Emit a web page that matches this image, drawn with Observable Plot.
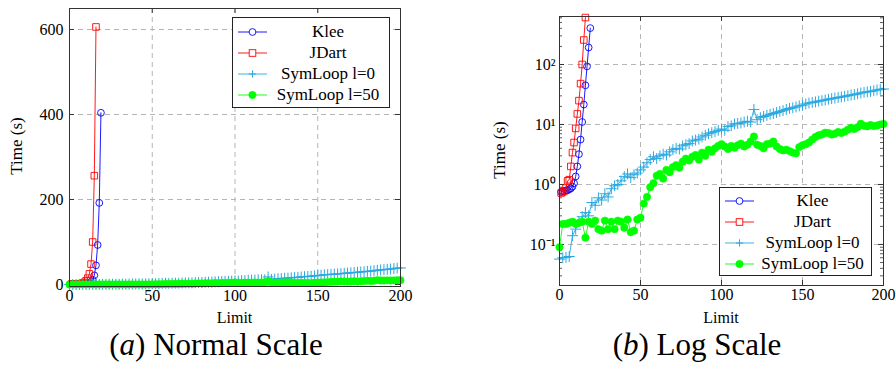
<!DOCTYPE html>
<html>
<head>
<meta charset="utf-8">
<script src="https://cdn.jsdelivr.net/npm/d3@7"></script>
<script src="https://cdn.jsdelivr.net/npm/@observablehq/plot@0.6"></script>
<style>
  body { margin: 0; background: white; }
  #wrap { position: relative; width: 896px; height: 370px; background: white; font-family: "Liberation Serif", serif; color: #000; overflow: hidden; }
  .panel { position: absolute; top: 0; }
  .lbl { position: absolute; transform: translate(-50%, -50%); white-space: nowrap; }
  .ylbl { position: absolute; transform: translate(-50%, -50%) rotate(-90deg); white-space: nowrap; }
  .legend { position: absolute; box-sizing: border-box; border: 1px solid #222; background: white; }
  .row { display: flex; align-items: center; height: 21px; }
  .row svg { flex: none; }
  .row span { flex: 1; text-align: center; font-size: 17px; line-height: 21px; }
</style>
</head>
<body>
<div id="wrap"></div>
<script>
// ---------------- data ----------------
const kleeLimit = [1, 2, 3, 4, 5, 6, 7, 8, 9, 10, 11, 12, 13, 14, 15, 16, 17, 18, 19];
const kleeTime = [0.75, 0.77, 0.78, 0.8, 0.8, 0.83, 0.86, 0.92, 1.05, 1.36, 2.0, 3.2, 5.6, 11, 21.5, 45, 93, 192, 404];

const jdartLimit = [1, 2, 3, 4, 5, 6, 7, 8, 9, 10, 11, 12, 13, 14, 15, 16];
const jdartTime = [0.72, 0.75, 0.78, 0.87, 1.15, 1.2, 2.0, 3.4, 5.0, 8.6, 15, 25, 48, 100, 256, 606];

const symLimit = [
  0, 2, 4, 6, 8, 10, 12, 14, 16, 18,
  20, 22, 24, 26, 28, 30, 32, 34, 36, 38,
  40, 42, 44, 46, 48, 50, 52, 54, 56, 58,
  60, 62, 64, 66, 68, 70, 72, 74, 76, 78,
  80, 82, 84, 86, 88, 90, 92, 94, 96, 98,
  100, 102, 104, 106, 108, 110, 112, 114, 116, 118,
  120, 122, 124, 126, 128, 130, 132, 134, 136, 138,
  140, 142, 144, 146, 148, 150, 152, 154, 156, 158,
  160, 162, 164, 166, 168, 170, 172, 174, 176, 178,
  180, 182, 184, 186, 188, 190, 192, 194, 196, 198,
  200
];
const symLoop0Time = [
  0.057, 0.06, 0.061, 0.063, 0.14, 0.18, 0.24, 0.29, 0.34, 0.3,
  0.5, 0.45, 0.6, 0.55, 0.7, 0.62, 0.85, 0.95, 1.0, 1.15,
  1.35, 1.5, 1.3, 1.45, 1.55, 1.75, 1.95, 2.3, 2.6, 2.9,
  2.7, 3.0, 3.2, 3.1, 3.5, 3.8, 4.0, 3.9, 4.4, 4.6,
  4.8, 5.3, 5.5, 5.7, 6.2, 6.6, 7.0, 7.3, 7.6, 8.0,
  8.4, 8.0, 9.2, 9.5, 10.2, 10.4, 10.6, 11.0, 11.3, 11.0,
  17.8, 12.0, 13.0, 13.6, 14.2, 14.8, 15.2, 15.8, 16.5, 17.0,
  17.8, 18.5, 19.0, 19.6, 20.4, 21.0, 22.0, 22.8, 23.3, 23.8,
  24.5, 25.0, 25.6, 26.3, 27.0, 27.5, 28.2, 28.8, 29.5, 30.2,
  31.0, 31.5, 32.5, 33.5, 34.4, 35.0, 35.6, 36.5, 37.5, 38.5,
  39.0
];
const symLoop50Time = [
  0.09, 0.22, 0.22, 0.23, 0.24, 0.22, 0.23, 0.24, 0.13, 0.24,
  0.22, 0.25, 0.18, 0.17, 0.25, 0.18, 0.24, 0.18, 0.25, 0.24,
  0.19, 0.26, 0.16, 0.17, 0.26, 0.28, 0.48, 0.62, 0.9, 1.05,
  1.4, 1.5, 1.25, 1.75, 1.6, 1.95, 2.1, 1.9, 2.4, 2.7,
  2.5, 2.9, 3.1, 2.6, 3.4, 3.0, 3.8, 3.5, 4.0, 4.4,
  4.7, 4.3, 3.9, 4.4, 4.1, 4.5, 4.8, 4.3, 4.6, 5.2,
  6.3, 4.6, 4.4, 4.0, 4.7, 4.8, 5.2, 4.3, 3.9, 3.7,
  3.8, 3.6, 3.4, 3.3, 4.2, 4.5, 4.7, 5.0, 5.6, 6.2,
  6.6, 6.8, 7.3, 7.2, 6.8, 7.0, 7.5, 7.2, 7.6, 8.2,
  8.8, 8.4, 9.0, 10.3, 9.5, 9.3, 9.8, 9.4, 9.6, 10.0,
  10.2
];

const seriesNames = ["Klee", "JDart", "SymLoop l=0", "SymLoop l=50"];
const seriesColors = ["#0000ff", "#ff0000", "#29a8e0", "#00ff00"];

const xTicks = [0, 50, 100, 150, 200];
const linTicks = [0, 200, 400, 600];
const logTicks = [0.1, 1, 10, 100];
const logTickLabels = ["10\u207B\u00B9", "10\u2070", "10\u00B9", "10\u00B2"];
const logMinor = [0.03, 0.04, 0.05, 0.06, 0.07, 0.08, 0.09,
  0.2, 0.3, 0.4, 0.5, 0.6, 0.7, 0.8, 0.9,
  2, 3, 4, 5, 6, 7, 8, 9,
  20, 30, 40, 50, 60, 70, 80, 90,
  200, 300, 400, 500, 600];

const xLabel = "Limit";
const yLabel = "Time (s)";
const captions = ["Normal Scale", "Log Scale"];

// ---------------- build ----------------
const klee = kleeLimit.map((x, i) => ({x, y: kleeTime[i]}));
const jdart = jdartLimit.map((x, i) => ({x, y: jdartTime[i]}));
const sym0 = symLimit.map((x, i) => ({x, y: symLoop0Time[i]}));
const sym50 = symLimit.map((x, i) => ({x, y: symLoop50Time[i]}));

const frameColor = "#333";
const gridStyle = {stroke: "#b5b5b5", strokeDasharray: "5,4", strokeWidth: 1};

function seriesMarks() {
  return [
    Plot.line(klee, {x: "x", y: "y", stroke: seriesColors[0], strokeWidth: 0.9}),
    Plot.dot(klee, {x: "x", y: "y", r: 3.4, stroke: seriesColors[0], fill: "none", strokeWidth: 0.9}),
    Plot.line(jdart, {x: "x", y: "y", stroke: seriesColors[1], strokeWidth: 0.9}),
    Plot.dot(jdart, {x: "x", y: "y", symbol: "square", r: 3.7, stroke: seriesColors[1], fill: "none", strokeWidth: 0.9}),
    Plot.line(sym0, {x: "x", y: "y", stroke: seriesColors[2], strokeWidth: 0.9}),
    Plot.dot(sym0, {x: "x", y: "y", symbol: "plus", r: 3.6, stroke: seriesColors[2], strokeWidth: 1}),
    Plot.line(sym50, {x: "x", y: "y", stroke: seriesColors[3], strokeWidth: 0.9}),
    Plot.dot(sym50, {x: "x", y: "y", r: 3.7, fill: seriesColors[3], stroke: seriesColors[3], strokeWidth: 0.5})
  ];
}

function innerTicks(vals, axis, len, fw, fh, extra = {}) {
  if (axis === "y") {
    return [
      Plot.tickY(vals, {y: d => d, stroke: frameColor, insetRight: fw - len, ...extra}),
      Plot.tickY(vals, {y: d => d, stroke: frameColor, insetLeft: fw - len, ...extra})
    ];
  }
  return [
    Plot.tickX(vals, {x: d => d, stroke: frameColor, insetTop: fh - len, ...extra}),
    Plot.tickX(vals, {x: d => d, stroke: frameColor, insetBottom: fh - len, ...extra})
  ];
}

const styleBase = {fontFamily: "'Liberation Serif', serif", fontSize: "16px", background: "transparent", overflow: "visible", color: "#000"};

// Panel A
const A = {w: 448, h: 330, ml: 69, mr: 48, mt: 8, mb: 44};
const aFW = A.w - A.ml - A.mr, aFH = A.h - A.mt - A.mb;
const plotA = Plot.plot({
  width: A.w, height: A.h,
  marginLeft: A.ml, marginRight: A.mr, marginTop: A.mt, marginBottom: A.mb,
  style: styleBase,
  x: {domain: [0, 200], ticks: xTicks, tickSize: 0, tickPadding: 3, label: null},
  y: {domain: [-4.7, 649.4], ticks: linTicks, tickSize: 0, tickPadding: 6, label: null},
  marks: [
    Plot.ruleX(xTicks.slice(1, -1), gridStyle),
    Plot.ruleY(linTicks.slice(1), gridStyle),
    ...innerTicks(linTicks, "y", 5, aFW, aFH),
    ...innerTicks(xTicks, "x", 5, aFW, aFH),
    ...seriesMarks(),
    Plot.frame({stroke: frameColor, strokeWidth: 1})
  ]
});

// Panel B
const B = {w: 448, h: 330, ml: 111, mr: 13, mt: 16, mb: 45};
const bFW = B.w - B.ml - B.mr, bFH = B.h - B.mt - B.mb;
const plotB = Plot.plot({
  width: B.w, height: B.h,
  marginLeft: B.ml, marginRight: B.mr, marginTop: B.mt, marginBottom: B.mb,
  style: styleBase,
  x: {domain: [0, 200], ticks: xTicks, tickSize: 0, tickPadding: 3, label: null},
  y: {type: "log", domain: [0.0207, 631], ticks: logTicks, tickFormat: d => logTickLabels[logTicks.indexOf(d)] ?? "", tickSize: 0, tickPadding: 4, label: null},
  marks: [
    Plot.ruleX(xTicks.slice(1, -1), gridStyle),
    Plot.ruleY(logTicks, gridStyle),
    ...innerTicks(logTicks, "y", 5, bFW, bFH),
    ...innerTicks(logMinor, "y", 3, bFW, bFH, {strokeWidth: 0.8}),
    ...innerTicks(xTicks, "x", 5, bFW, bFH),
    ...seriesMarks(),
    Plot.frame({stroke: frameColor, strokeWidth: 1})
  ]
});

const wrap = document.getElementById("wrap");
function addDiv(cls, html, left, top, extraStyle = "") {
  const d = document.createElement("div");
  d.className = cls;
  d.innerHTML = html;
  d.style.cssText += `left:${left}px;top:${top}px;${extraStyle}`;
  wrap.appendChild(d);
  return d;
}
const pa = addDiv("panel", "", 0, 0); pa.appendChild(plotA);
const pb = addDiv("panel", "", 448, 0); pb.appendChild(plotB);

// axis labels
addDiv("lbl", xLabel, A.ml + aFW / 2, 318, "font-size:16px;");
addDiv("lbl", xLabel, 448 + B.ml + bFW / 2, 318, "font-size:16px;");
addDiv("ylbl", yLabel, 17, 146, "font-size:17px;");
addDiv("ylbl", yLabel, 500, 150, "font-size:17px;");

// captions
addDiv("lbl", `(<i>a</i>) ${captions[0]}`, 216, 345, "font-size:31px;");
addDiv("lbl", `(<i>b</i>) ${captions[1]}`, 697, 345, "font-size:31px;");

// legends
function markerSVG(i) {
  const c = seriesColors[i];
  let m = "";
  if (i === 0) m = `<circle cx="14.5" cy="7" r="3.4" fill="white" stroke="${c}" stroke-width="0.9"/>`;
  if (i === 1) m = `<rect x="11.2" y="3.7" width="6.6" height="6.6" fill="white" stroke="${c}" stroke-width="0.9"/>`;
  if (i === 2) m = `<path d="M14.5,3.4V10.6M10.9,7H18.1" stroke="${c}" stroke-width="1"/>`;
  if (i === 3) m = `<circle cx="14.5" cy="7" r="3.7" fill="${c}" stroke="${c}" stroke-width="0.5"/>`;
  return `<svg width="29" height="14"><line x1="0" y1="7" x2="29" y2="7" stroke="${c}" stroke-width="0.9"/>${m}</svg>`;
}
function legend(left, top, w, h, padTop, padLeft) {
  const rows = seriesNames.map((n, i) => `<div class="row"><span style="flex:none;width:${padLeft}px"></span>${markerSVG(i)}<span>${n}</span></div>`).join("");
  addDiv("legend", rows, left, top, `width:${w}px;height:${h}px;padding-top:${padTop}px;`);
}
legend(232, 17, 158, 91, 3, 5);
legend(719, 187, 153, 89, 2, 5);
</script>
</body>
</html>
